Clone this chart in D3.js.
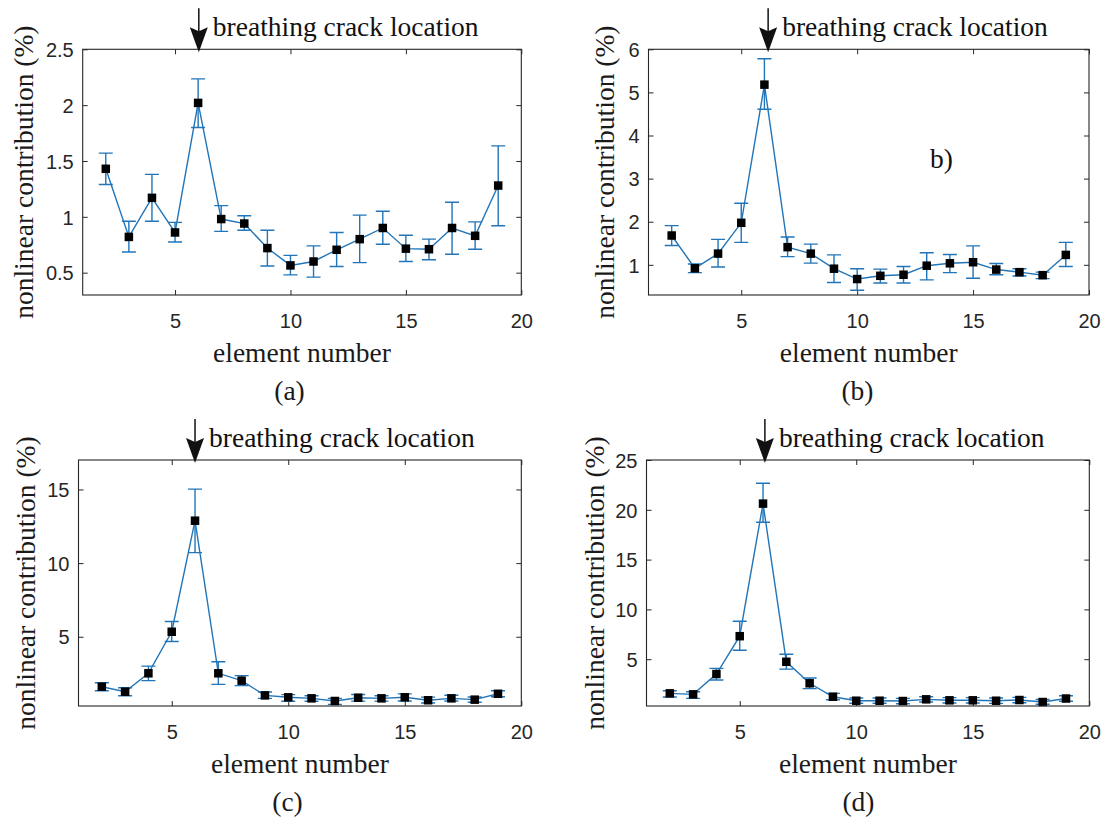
<!DOCTYPE html>
<html>
<head>
<meta charset="utf-8">
<script src="https://cdn.jsdelivr.net/npm/d3@7"></script>
<style>
  html, body { margin: 0; padding: 0; background: #fff; }
  svg { display: block; }
</style>
</head>
<body>
<svg id="fig" width="1108" height="823"></svg>
<script>
// element numbers along the beam
const elements = [2,3,4,5,6,7,8,9,10,11,12,13,14,15,16,17,18,19];

// (a) nonlinear contribution (%) with error-bar limits
const aMean  = [1.43,0.82,1.17,0.86,2.02,0.98,0.94,0.72,0.565,0.60,0.705,0.80,0.90,0.715,0.71,0.90,0.83,1.28];
const aUpper = [1.57,0.96,1.38,0.95,2.235,1.10,1.01,0.88,0.655,0.74,0.86,1.015,1.05,0.835,0.80,1.13,0.955,1.635];
const aLower = [1.29,0.685,0.96,0.775,1.80,0.87,0.88,0.56,0.48,0.46,0.555,0.59,0.755,0.60,0.615,0.665,0.71,0.92];

// (b)
const bMean  = [1.68,0.92,1.26,1.975,5.18,1.41,1.26,0.91,0.67,0.745,0.77,0.98,1.035,1.06,0.89,0.83,0.76,1.23];
const bUpper = [1.91,1.02,1.59,2.43,5.78,1.645,1.48,1.23,0.91,0.90,0.96,1.28,1.24,1.44,1.03,0.91,0.83,1.52];
const bLower = [1.45,0.82,0.95,1.52,4.61,1.19,1.04,0.59,0.41,0.58,0.58,0.65,0.82,0.69,0.77,0.74,0.68,0.96];

// (c)
const cMean  = [1.61,1.27,2.52,5.34,12.88,2.52,2.02,1.02,0.89,0.82,0.64,0.86,0.82,0.89,0.69,0.82,0.73,1.13];
const cUpper = [1.88,1.54,3.01,6.04,15.02,3.30,2.36,1.25,1.07,1.00,0.82,1.08,1.00,1.12,0.90,1.03,0.91,1.34];
const cLower = [1.34,1.00,2.02,4.68,10.71,1.77,1.68,0.82,0.62,0.62,0.41,0.63,0.63,0.64,0.50,0.64,0.55,0.93];

// (d)
const dMean  = [1.57,1.47,3.51,7.31,20.62,4.74,2.58,1.23,0.83,0.83,0.80,0.97,0.87,0.87,0.83,0.90,0.70,1.05];
const dUpper = [1.83,1.73,4.08,8.81,22.66,5.49,3.11,1.57,1.10,1.10,1.07,1.23,1.14,1.14,1.10,1.17,0.95,1.33];
const dLower = [1.20,1.07,2.91,5.90,18.75,4.00,2.04,0.93,0.57,0.57,0.53,0.70,0.60,0.60,0.56,0.63,0.47,0.77];

// axis limits and ticks
const xLimits = [1, 20];
const xTicks = [5, 10, 15, 20];
const yMaxes = [2.5, 6, 17, 25];
const yMin = 0.3;
const yTicksA = [0.5, 1, 1.5, 2, 2.5];
const yTicksB = [1, 2, 3, 4, 5, 6];
const yTicksC = [5, 10, 15];
const yTicksD = [5, 10, 15, 20, 25];

// where the crack arrow points (element coordinate) in each panel
const crackX = [6.03, 6.16, 6.0, 6.08];

// texts
const panelTags = ["(a)", "(b)", "(c)", "(d)"];
const xTitle = "element number";
const yTitle = "nonlinear contribution (%)";
const crackText = "breathing crack location";
const insetTag = "b)";

const series = [
  {mean: aMean, up: aUpper, lo: aLower, yTicks: yTicksA},
  {mean: bMean, up: bUpper, lo: bLower, yTicks: yTicksB},
  {mean: cMean, up: cUpper, lo: cLower, yTicks: yTicksC},
  {mean: dMean, up: dUpper, lo: dLower, yTicks: yTicksD}
];

// plot-box geometry of the four axes
const boxes = [
  {x0: 82.7,  x1: 521.3, y0: 49.3, y1: 295, yLabX: 32.5,  tagX: 289.5},
  {x0: 648.5, x1: 1089,  y0: 49.3, y1: 295, yLabX: 614,   tagX: 857.5},
  {x0: 78.5,  x1: 521.3, y0: 460,  y1: 706, yLabX: 35,    tagX: 287.5},
  {x0: 646.5, x1: 1089.3,y0: 460,  y1: 706, yLabX: 603.5, tagX: 858.5}
];

const lineBlue = "#2275b8";
const axisGray = "#262626";
const serif = "'Liberation Serif', 'Times New Roman', serif";
const sans = "'Liberation Sans', Arial, sans-serif";
const tickLen = 5;

const svg = d3.select("#fig");

series.forEach((s, i) => {
  const b = boxes[i];
  const x = d3.scaleLinear().domain(xLimits).range([b.x0, b.x1]);
  const y = d3.scaleLinear().domain([yMin, yMaxes[i]]).range([b.y1, b.y0]);
  const g = svg.append("g");

  // bottom axis with inward ticks
  const xb = g.append("g").attr("transform", `translate(0,${b.y1})`)
    .call(d3.axisBottom(x).tickValues(xTicks).tickSize(-tickLen).tickPadding(0).tickFormat(d3.format("d")));
  xb.select(".domain").remove();
  xb.selectAll("line").attr("stroke", axisGray);
  xb.selectAll("text").attr("fill", axisGray).attr("font-family", sans).attr("font-size", 20)
    .attr("y", 33).attr("dy", null);

  // top mirrored ticks
  const xt = g.append("g").attr("transform", `translate(0,${b.y0})`)
    .call(d3.axisTop(x).tickValues(xTicks).tickSize(-tickLen).tickFormat(""));
  xt.select(".domain").remove();
  xt.selectAll("line").attr("stroke", axisGray);

  // left axis
  const yl = g.append("g").attr("transform", `translate(${b.x0},0)`)
    .call(d3.axisLeft(y).tickValues(s.yTicks).tickSize(-tickLen).tickPadding(9).tickFormat(d => String(d)));
  yl.select(".domain").remove();
  yl.selectAll("line").attr("stroke", axisGray);
  yl.selectAll("text").attr("fill", axisGray).attr("font-family", sans).attr("font-size", 20)
    .attr("dy", "0.36em");

  // right mirrored ticks
  const yr = g.append("g").attr("transform", `translate(${b.x1},0)`)
    .call(d3.axisRight(y).tickValues(s.yTicks).tickSize(-tickLen).tickFormat(""));
  yr.select(".domain").remove();
  yr.selectAll("line").attr("stroke", axisGray);

  // data: connecting line
  const pts = elements.map((e, k) => ({e, m: s.mean[k], u: s.up[k], l: s.lo[k]}));
  g.append("path")
    .datum(pts)
    .attr("fill", "none")
    .attr("stroke", lineBlue)
    .attr("stroke-width", 1.4)
    .attr("d", d3.line().x(d => x(d.e)).y(d => y(d.m)));

  // error bars
  const capHalf = 7;
  const eb = g.append("g").attr("stroke", lineBlue).attr("stroke-width", 1.4).attr("fill", "none");
  eb.selectAll("path.eb").data(pts).join("path")
    .attr("class", "eb")
    .attr("d", d => {
      const cx = x(d.e), yu = y(d.u), yl2 = y(d.l);
      return `M${cx},${yu}V${yl2}M${cx - capHalf},${yu}H${cx + capHalf}M${cx - capHalf},${yl2}H${cx + capHalf}`;
    });

  // square markers
  const ms = 8.5;
  g.append("g").selectAll("rect").data(pts).join("rect")
    .attr("x", d => x(d.e) - ms / 2)
    .attr("y", d => y(d.m) - ms / 2)
    .attr("width", ms).attr("height", ms)
    .attr("fill", "#000");

  // axes box
  g.append("rect")
    .attr("x", b.x0).attr("y", b.y0)
    .attr("width", b.x1 - b.x0).attr("height", b.y1 - b.y0)
    .attr("fill", "none").attr("stroke", axisGray).attr("stroke-width", 1.1);

  // axis titles
  g.append("text")
    .attr("x", (b.x0 + b.x1) / 2).attr("y", b.y1 + 67)
    .attr("text-anchor", "middle")
    .attr("font-family", serif).attr("font-size", 27.5).attr("fill", "#1a1a1a")
    .text(xTitle);
  g.append("text")
    .attr("transform", `translate(${b.yLabX},${(b.y0 + b.y1) / 2}) rotate(-90)`)
    .attr("text-anchor", "middle")
    .attr("font-family", serif).attr("font-size", 27.5).attr("fill", "#1a1a1a")
    .text(yTitle);

  // sub-figure tag
  g.append("text")
    .attr("x", b.tagX).attr("y", b.y1 + 105)
    .attr("text-anchor", "middle")
    .attr("font-family", serif).attr("font-size", 27.5).attr("fill", "#1a1a1a")
    .text(panelTags[i]);

  // crack location arrow and caption
  const ax = x(crackX[i]);
  const tipY = b.y0 + 3;
  const headLen = 25, headHalf = 9, notch = 4;
  g.append("line")
    .attr("x1", ax).attr("x2", ax)
    .attr("y1", b.y0 - 41).attr("y2", tipY - headLen + notch + 1)
    .attr("stroke", "#111").attr("stroke-width", 1.5);
  g.append("path")
    .attr("d", `M${ax},${tipY}L${ax - headHalf},${tipY - headLen}L${ax},${tipY - headLen + notch}L${ax + headHalf},${tipY - headLen}Z`)
    .attr("fill", "#111");
  g.append("text")
    .attr("x", ax + 14).attr("y", b.y0 - 13.5)
    .attr("font-family", serif).attr("font-size", 27.5).attr("fill", "#111")
    .text(crackText);
});

// stray inset tag inside panel (b)
svg.append("text")
  .attr("x", 930).attr("y", 168)
  .attr("font-family", serif).attr("font-size", 27.5).attr("fill", "#111")
  .text(insetTag);
</script>
</body>
</html>
